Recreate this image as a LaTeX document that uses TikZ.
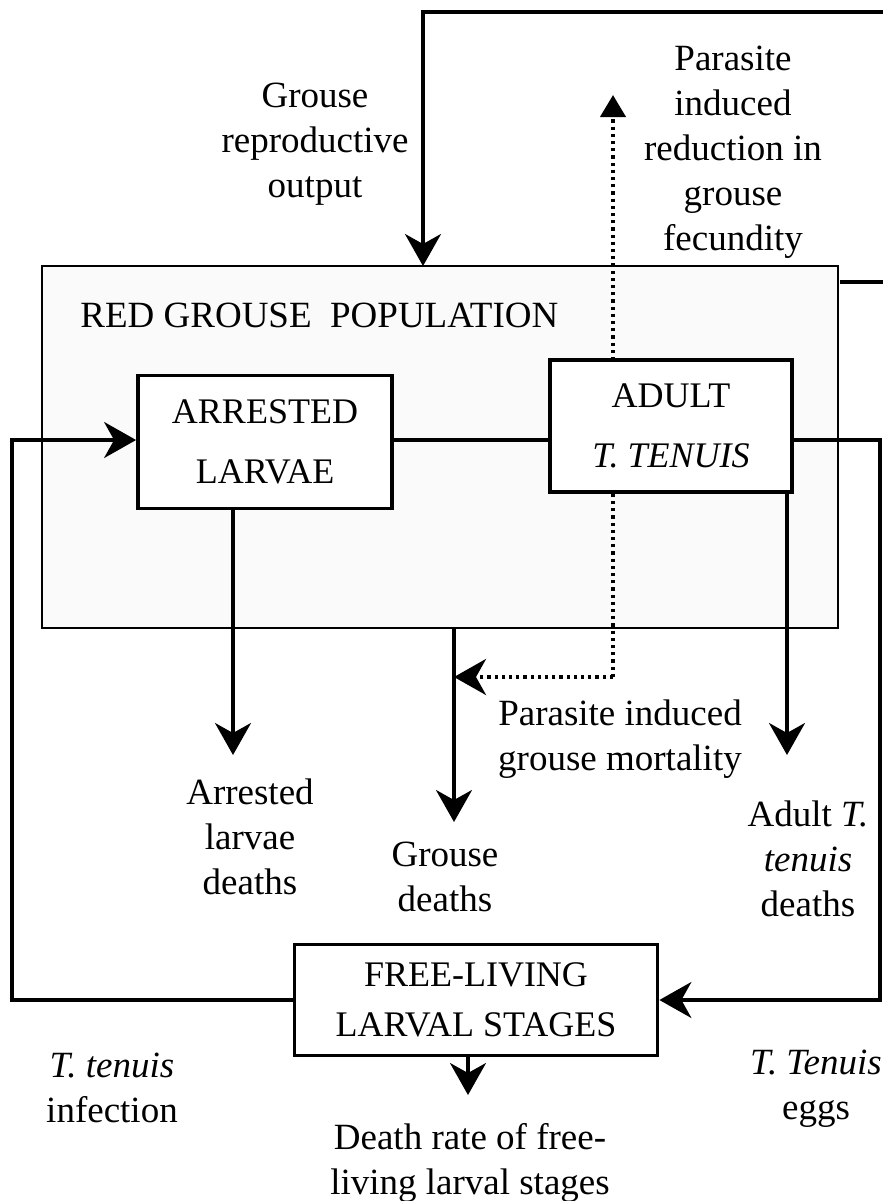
\documentclass[tikz,border=0pt]{standalone}
\usepackage{fontspec}
\setmainfont{Liberation Serif}
\usetikzlibrary{arrows.meta,calc}

\tikzset{
  lbl/.style     = {align=center, inner sep=0pt, font=\fontsize{18.5}{22.5}\selectfont},
  stagebox/.style= {draw, line width=1.9pt, fill=white, align=center,
                    inner sep=0pt, font=\fontsize{18}{30}\selectfont},
  popbox/.style  = {draw, line width=0.8pt, fill=gray!4},
  flow/.style    = {line width=1.6pt, -{Stealth[length=16pt, width=18pt, inset=5pt]}},
  link/.style    = {line width=1.6pt},
  dotflow/.style = {line width=2pt, dash pattern=on 1.6pt off 2pt}
}

\begin{document}
\begin{tikzpicture}[x=0.5pt, y=-0.5pt]
  \useasboundingbox (0,0) rectangle (883,1201);

  % host population
  \node[popbox, minimum width=398pt, minimum height=181pt] (pop) at (440,447) {};
  \node[lbl, anchor=west] (popname) at (80,315) {RED GROUSE\ \ POPULATION};

  % parasite effects
  \coordinate (dc)   at (613,677);
  \coordinate (dtop) at (613,95);
  \coordinate (gd)   at (454,822);
  \draw[dotflow, -{Triangle[length=11pt, width=12.5pt]}] (dc) -- (dtop);
  \draw[dotflow, -{Stealth[length=16pt, width=18pt, inset=5pt]}] (dc) -- (dc -| gd);

  % stages
  \node[stagebox, minimum width=127pt, minimum height=66.5pt] (arr) at (265,442) {ARRESTED\\LARVAE};
  \node[stagebox, minimum width=121pt, minimum height=66pt] (adult) at (671,426) {ADULT\\\textit{T. TENUIS}};
  \node[stagebox, minimum width=181.5pt, minimum height=55.5pt, font=\fontsize{18}{25}\selectfont]
    (free) at (476,1000) {FREE-LIVING\\LARVAL STAGES};

  % grouse reproduction
  \coordinate (topR) at (883,12);
  \coordinate (inR)  at (423,266);
  \draw[flow] (topR) -| (inR);
  \draw[link] (840,282) -- (883,282);

  % life cycle
  \coordinate (ey) at (0,440);
  \coordinate (rc) at (880,1000);
  \coordinate (lc) at (12,1000);
  \draw[link] (arr.east |- ey) -- (adult.west |- ey);
  \draw[flow] (adult.east |- ey) -| (rc) -- (free.east);
  \draw[flow] (free.west) -- (lc) |- (arr.west |- ey);

  % deaths
  \coordinate (ad) at (233,755);
  \coordinate (td) at (787,755);
  \coordinate (dr) at (468,1095);
  \draw[flow] (arr.south -| ad) -- (ad);
  \draw[flow] (pop.south -| gd) -- (gd);
  \draw[flow] (adult.south -| td) -- (td);
  \draw[flow] (free.south -| dr) -- (dr);

  % labels
  \node[lbl] (repro)  at (315,144)  {Grouse\\reproductive\\output};
  \node[lbl] (fecund) at (733,152)  {Parasite\\induced\\reduction in\\grouse\\fecundity};
  \node[lbl] (pmort)  at (620,739)  {Parasite induced\\grouse mortality};
  \node[lbl] (arrd)   at (250,837)  {Arrested\\larvae\\deaths};
  \node[lbl] (grd)    at (445,877)  {Grouse\\deaths};
  \node[lbl] (adtd)   at (808,859)  {Adult \textit{T.}\\\textit{tenuis}\\deaths};
  \node[lbl] (infect) at (112,1088) {\textit{T. tenuis}\\infection};
  \node[lbl] (eggs)   at (816,1089) {\textit{T. Tenuis}\\eggs};
  \node[lbl] (drate)  at (470,1163) {Death rate of free-\\living larval stages};
\end{tikzpicture}
\end{document}
